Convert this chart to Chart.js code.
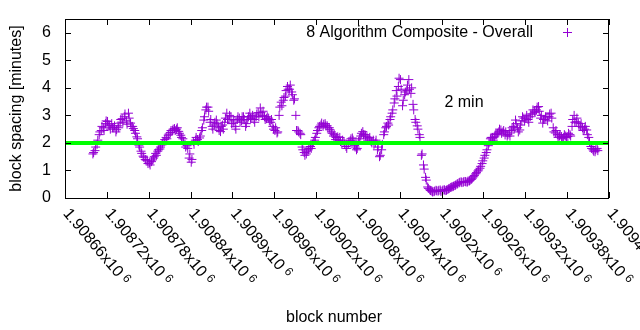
<!DOCTYPE html>
<html>
<head>
<meta charset="utf-8">
<script src="https://cdn.jsdelivr.net/npm/chart.js@4"></script>
<style>
  html, body { margin:0; padding:0; background:#fff; }
  #wrap { width:640px; height:330px; }
</style>
</head>
<body>
<div id="wrap"><canvas id="c" width="640" height="330"></canvas></div>
<script>
// block spacing (minutes), read every 3 blocks from firstBlock (and 1 block later for spacingB)
const seriesLabel = '8 Algorithm Composite - Overall';
const firstBlock = 1908700;
const blockStep = 3;
const spacing = [
  1.60,1.72,1.95,2.30,2.45,2.55,2.70,2.78,2.62,2.70,
  2.55,2.40,2.62,2.72,2.88,2.95,2.80,3.08,2.72,2.60,
  2.45,2.22,1.92,1.70,1.52,1.40,1.35,1.27,1.32,1.45,
  1.62,1.70,1.78,1.93,2.05,2.20,2.28,2.38,2.45,2.52,
  2.50,2.42,2.28,2.15,1.95,1.90,1.45,1.30,2.05,2.10,
  2.12,2.18,2.45,2.83,3.20,3.30,2.75,2.60,2.65,2.83,
  2.55,2.41,2.65,2.75,3.08,2.85,2.95,2.72,2.60,2.85,
  2.90,2.80,2.95,2.60,2.85,3.08,2.90,2.85,2.95,3.10,
  3.27,3.00,2.95,2.88,2.90,2.75,2.60,2.45,2.36,3.00,
  3.48,3.55,3.70,4.05,3.95,3.85,3.55,3.00,2.45,2.35,
  1.85,1.65,1.60,1.75,1.87,1.95,2.10,2.35,2.55,2.65,
  2.60,2.70,2.62,2.55,2.40,2.25,2.12,2.22,2.20,1.95,
  2.05,1.87,1.95,2.08,2.18,1.90,1.75,2.05,2.25,2.41,
  2.30,2.22,2.15,2.05,2.10,2.00,1.75,1.50,1.75,2.30,
  2.55,2.72,2.85,3.08,3.45,3.90,4.05,4.30,3.35,3.75,
  3.90,4.30,3.80,3.40,2.85,2.62,2.30,1.55,1.20,0.75,
  0.40,0.30,0.25,0.23,0.28,0.25,0.29,0.26,0.30,0.28,
  0.33,0.38,0.41,0.45,0.50,0.55,0.59,0.57,0.60,0.58,
  0.62,0.68,0.77,0.88,0.98,1.08,1.25,1.45,1.65,1.90,
  2.15,2.20,2.22,2.30,2.40,2.47,2.40,2.29,2.25,2.36,
  2.45,2.60,2.83,2.55,2.47,2.80,2.90,2.90,2.85,2.95,
  3.05,3.15,3.20,3.32,2.90,2.72,2.85,2.95,2.95,3.08,
  2.55,2.36,2.30,2.25,2.23,2.20,2.25,2.23,2.30,2.60,
  3.00,2.77,2.72,2.60,2.55,2.50,2.47,2.20,1.87,1.75,
  1.68,1.80
];
const spacingB = [
  1.65,1.85,2.10,2.40,2.60,2.45,2.80,2.65,2.50,2.55,
  2.62,2.48,2.55,2.85,2.75,3.05,2.68,2.90,2.60,2.52,
  2.35,2.15,1.85,1.62,1.48,1.38,1.25,1.20,1.38,1.50,
  1.55,1.75,1.85,1.98,2.12,2.15,2.32,2.45,2.50,2.45,
  2.55,2.35,2.20,2.05,1.85,1.80,1.60,1.40,1.95,2.20,
  2.05,2.25,2.55,2.95,3.30,3.15,2.85,2.50,2.75,2.70,
  2.45,2.60,2.50,2.90,2.85,3.00,2.70,2.80,2.50,2.95,
  2.75,2.95,2.85,2.70,2.95,2.90,3.00,2.75,3.05,2.95,
  3.10,3.15,2.85,2.95,2.80,2.85,2.50,2.55,2.40,3.30,
  3.35,3.65,3.90,3.95,4.10,3.75,3.60,2.45,2.40,2.30,
  1.75,1.55,1.70,1.80,1.80,2.05,2.20,2.45,2.60,2.72,
  2.68,2.62,2.55,2.48,2.35,2.30,2.20,2.10,2.05,2.10,
  1.95,1.80,2.00,2.15,2.10,1.85,1.80,2.15,2.35,2.30,
  2.25,2.10,2.20,2.00,1.95,2.10,1.85,1.55,1.95,2.40,
  2.60,2.65,2.95,3.20,3.60,3.70,4.35,3.95,3.55,3.85,
  4.10,3.95,4.00,3.20,2.75,2.50,2.20,1.60,1.05,0.65,
  0.35,0.27,0.22,0.25,0.26,0.28,0.24,0.29,0.27,0.31,
  0.35,0.40,0.43,0.47,0.52,0.57,0.56,0.60,0.58,0.62,
  0.65,0.72,0.82,0.92,1.02,1.15,1.35,1.55,1.75,2.00,
  2.20,2.10,2.30,2.35,2.50,2.35,2.45,2.40,2.30,2.25,
  2.55,2.50,2.70,2.40,2.65,2.95,2.80,3.00,2.75,3.05,
  3.20,3.10,3.30,3.15,3.00,2.85,2.95,2.80,3.05,2.90,
  2.40,2.45,2.20,2.30,2.15,2.30,2.20,2.35,2.25,2.85,
  2.75,2.90,2.60,2.70,2.45,2.60,2.30,2.05,1.80,1.70,
  1.75,1.72
];
const targetMinutes = 2;
const targetLabel = '2 min';
const xTicks = [1908660,1908720,1908780,1908840,1908900,1908960,1909020,
                1909080,1909140,1909200,1909260,1909320,1909380,1909440];
const xTickLabels = ['1.90866','1.90872','1.90878','1.90884','1.9089','1.90896','1.90902',
                     '1.90908','1.90914','1.9092','1.90926','1.90932','1.90938','1.90944'];
const yTicks = [0,1,2,3,4,5,6];

const FONT = '16px "Liberation Sans", Arial, sans-serif';
const PURPLE = '#9400d3';

const points = spacing.map((v,i)=>({ x:firstBlock + i*blockStep, y:v }))
  .concat(spacingB.map((v,i)=>({ x:firstBlock + 1 + i*blockStep, y:v })));

const gnuFrame = {
  id:'gnuFrame',
  afterDraw(chart){
    const { ctx, chartArea:a, scales:{ x, y } } = chart;
    ctx.save();
    ctx.strokeStyle = '#000'; ctx.lineWidth = 1;
    ctx.strokeRect(Math.round(a.left)+.5, Math.round(a.top)+.5,
                   Math.round(a.right-a.left)-1, Math.round(a.bottom-a.top));
    ctx.beginPath();
    xTicks.forEach(v=>{
      const px = Math.round(x.getPixelForValue(v))+.5;
      ctx.moveTo(px, a.bottom); ctx.lineTo(px, a.bottom-6);
      ctx.moveTo(px, a.top); ctx.lineTo(px, a.top+6);
    });
    yTicks.forEach(v=>{
      const py = Math.round(y.getPixelForValue(v))+.5;
      ctx.moveTo(a.left, py); ctx.lineTo(a.left+6, py);
      ctx.moveTo(a.right, py); ctx.lineTo(a.right-6, py);
    });
    ctx.stroke();

    ctx.fillStyle = '#000';
    ctx.font = FONT;
    // y tick labels
    ctx.textAlign = 'right'; ctx.textBaseline = 'middle';
    yTicks.forEach(v=> ctx.fillText(String(v), a.left-14, y.getPixelForValue(v)));
    // x tick labels, rotated, with x10^6
    xTicks.forEach((v,i)=>{
      const px = x.getPixelForValue(v);
      ctx.save();
      ctx.translate(px+1, a.bottom+13);
      ctx.rotate(50*Math.PI/180);
      ctx.textAlign = 'left'; ctx.textBaseline = 'middle';
      ctx.font = FONT;
      const s = xTickLabels[i] + 'x10';
      ctx.fillText(s, 0, 0);
      const w = ctx.measureText(s).width;
      ctx.font = '12px "Liberation Sans", Arial, sans-serif';
      ctx.fillText('6', w+4, -3);
      ctx.restore();
    });
    // axis titles
    ctx.font = FONT;
    ctx.textAlign = 'center'; ctx.textBaseline = 'alphabetic';
    ctx.fillText('block number', 334, 322);
    ctx.save();
    ctx.translate(21, (a.top+a.bottom)/2);
    ctx.rotate(-Math.PI/2);
    ctx.fillText('block spacing [minutes]', 0, 0);
    ctx.restore();
    // key
    ctx.textAlign = 'right';
    ctx.fillText(seriesLabel, 533, 37);
    ctx.strokeStyle = PURPLE;
    ctx.beginPath();
    ctx.moveTo(563, 32.5); ctx.lineTo(572, 32.5);
    ctx.moveTo(567.5, 28); ctx.lineTo(567.5, 37);
    ctx.stroke();
    // level label
    ctx.textAlign = 'left';
    ctx.fillText(targetLabel, x.getPixelForValue(1909204), y.getPixelForValue(3.3));
    ctx.restore();
  }
};

new Chart(document.getElementById('c'), {
  type:'scatter',
  data:{
    datasets:[
      { type:'line', label:targetLabel, order:0,
        data:[{ x:xTicks[0], y:targetMinutes }, { x:xTicks[xTicks.length-1], y:targetMinutes }],
        borderColor:'#00ff00', borderWidth:4, pointRadius:0, fill:false },
      { label:seriesLabel, order:1, data:points,
        pointStyle:'cross', pointRadius:4.5, pointBorderWidth:1,
        borderColor:PURPLE, backgroundColor:PURPLE, showLine:false }
    ]
  },
  options:{
    responsive:false,
    animation:false,
    devicePixelRatio:1,
    events:[],
    layout:{ padding:{ left:0, right:31, top:19, bottom:0 } },
    plugins:{ legend:{ display:false }, tooltip:{ enabled:false } },
    scales:{
      x:{ type:'linear', min:xTicks[0], max:xTicks[xTicks.length-1],
          ticks:{ display:false }, grid:{ display:false }, border:{ display:false },
          afterFit:s=>{ s.height = 132; } },
      y:{ min:0, max:6.5,
          ticks:{ display:false }, grid:{ display:false }, border:{ display:false },
          afterFit:s=>{ s.width = 65; } }
    }
  },
  plugins:[gnuFrame]
});
</script>
</body>
</html>
